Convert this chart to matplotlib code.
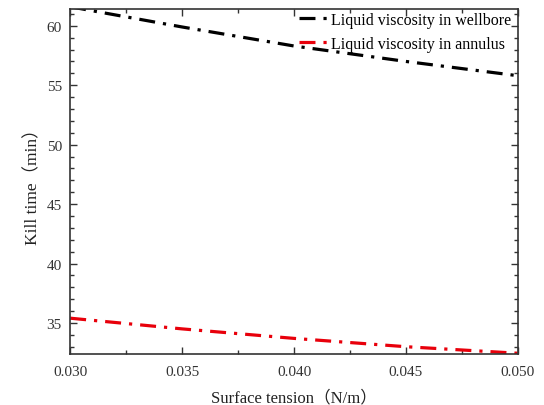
import numpy as np
import matplotlib.pyplot as plt
from matplotlib.ticker import MultipleLocator

plt.rcParams['font.family'] = ['Liberation Serif', 'Noto Sans CJK SC']

tension = [0.030, 0.035, 0.040, 0.045, 0.050]
wellbore = [61.6, 59.9, 58.3, 57.0, 55.8]
annulus = [35.4, 34.5, 33.7, 33.0, 32.45]

fig = plt.figure(figsize=(5.44, 4.06), dpi=100)
ax = fig.add_axes([0.129, 0.126, 0.823, 0.849])

ax.plot(tension, wellbore, color='black', lw=2.3, dashes=(5, 2.5, 1, 2.5),
        label='Liquid viscosity in wellbore')
ax.plot(tension, annulus, color='#e8000b', lw=2.3, dashes=(5, 2.5, 1, 2.5),
        label='Liquid viscosity in annulus')

ax.set_xlim(0.030, 0.050)
ax.set_ylim(32.4, 61.4)
ax.xaxis.set_major_locator(MultipleLocator(0.005))
ax.xaxis.set_minor_locator(MultipleLocator(0.0025))
ax.yaxis.set_major_locator(MultipleLocator(5))
ax.yaxis.set_minor_locator(MultipleLocator(1))
ax.xaxis.set_major_formatter(plt.FormatStrFormatter('%.3f'))

ax.tick_params(which='both', direction='in', top=True, right=True,
               labelsize=11, colors='#333333', labelcolor='#333333')
ax.tick_params(which='major', length=5, width=1)
ax.tick_params(which='minor', length=3, width=1)
ax.tick_params(axis='x', pad=8)
ax.tick_params(axis='y', pad=6)
for s in ax.spines.values():
    s.set_linewidth(1.2)
    s.set_color('#333333')

ax.set_xlabel('Surface tension（N/m）', fontsize=12, color='#222222', labelpad=8)
ax.set_ylabel('Kill time（min）', fontsize=12.5, color='#222222', labelpad=4)

ax.legend(loc='upper right', bbox_to_anchor=(0.985, 0.992), frameon=False,
          fontsize=11.5, handlelength=1.8, borderaxespad=0.0,
          labelspacing=0.5, handletextpad=0.2, borderpad=0.0)

fig.savefig('out.png', dpi=100)
